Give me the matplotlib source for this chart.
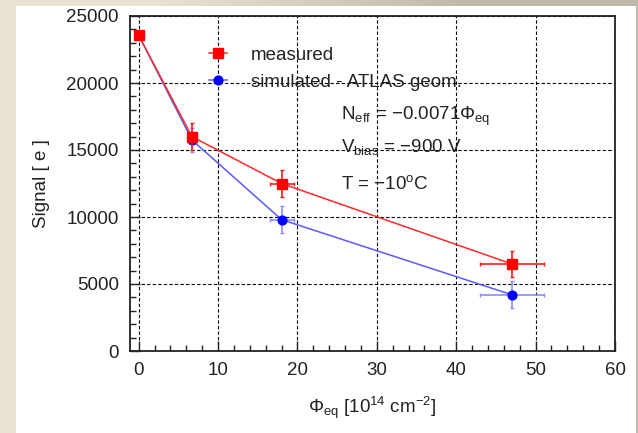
import numpy as np
import matplotlib
matplotlib.use("Agg")
import matplotlib.pyplot as plt
from matplotlib.patches import Rectangle

plt.rcParams['font.family'] = ['Liberation Sans', 'DejaVu Sans']
plt.rcParams['mathtext.fontset'] = 'custom'
plt.rcParams['mathtext.rm'] = 'Liberation Sans'
plt.rcParams['mathtext.it'] = 'Liberation Sans:italic'
plt.rcParams['mathtext.bf'] = 'Liberation Sans:bold'

# ---- data ----
meas_x = [0, 6.7, 18, 47]
meas_y = [23550, 16000, 12500, 6500]
meas_xerr = [0, 0.5, 1.5, 4]
meas_yerr = [0, 1000, 1000, 1000]

sim_x = [0, 6.7, 18, 47]
sim_y = [23550, 15750, 9800, 4200]
sim_xerr = [0, 0.5, 1.5, 4]
sim_yerr = [0, 900, 1000, 1000]

x_ticks = [0, 10, 20, 30, 40, 50, 60]
y_ticks = [0, 5000, 10000, 15000, 20000, 25000]

W, H = 638, 433
fig = plt.figure(figsize=(W / 100, H / 100), dpi=100)

# background: beige gradient frame + white slide area
bg = fig.add_axes([0, 0, 1, 1], zorder=-10)
bg.set_axis_off()
grad = np.array([[[0.91, 0.89, 0.82], [0.74, 0.72, 0.66]]])
bg.imshow(grad, extent=[0, 1, 0, 1], aspect='auto', interpolation='bilinear')
bg.add_patch(Rectangle((16 / W, 0), (636 - 16) / W, (H - 6) / H,
                       facecolor='white', edgecolor='none'))
bg.set_xlim(0, 1)
bg.set_ylim(0, 1)

ax = fig.add_axes([130 / W, 1 - 351 / H, (615 - 130) / W, (351 - 16) / H])
ax.set_facecolor('none')

ax.set_xlim(-1.1, 60)
ax.set_ylim(0, 25000)
ax.set_xticks(x_ticks)
ax.set_yticks(y_ticks)
ax.set_xticks(np.arange(0, 60.1, 2), minor=True)
ax.set_yticks(np.arange(0, 25001, 1000), minor=True)

ax.grid(True, which='major', color='black', linestyle=(0, (3, 2)), linewidth=0.8)
ax.set_axisbelow(True)

for side in ['top', 'right', 'left', 'bottom']:
    ax.spines[side].set_linewidth(1.3)
    ax.spines[side].set_color('#222222')

ax.tick_params(which='both', direction='in', top=False, right=False,
               colors='#222222', labelcolor='#222222', labelsize=13.5, pad=8)
ax.tick_params(which='major', length=7, width=1.0)
ax.tick_params(which='minor', length=4.5, width=1.0)

sim = ax.errorbar(sim_x, sim_y, xerr=sim_xerr, yerr=sim_yerr, fmt='o-',
                  color='#5a5aff', ecolor='#8c8cff', mfc='#0000ff', mec='#0000ff',
                  ms=6.3, lw=1.1, elinewidth=1.2, capsize=1.5, zorder=3,
                  label='simulated - ATLAS geom.')
meas = ax.errorbar(meas_x, meas_y, xerr=meas_xerr, yerr=meas_yerr, fmt='s-',
                   color='#ff2a2a', ecolor='#ff1a1a', mfc='#ff0000', mec='#ff0000',
                   ms=7, lw=1.1, elinewidth=1.2, capsize=1.5, zorder=4,
                   label='measured')

leg = ax.legend([meas.lines[0], sim.lines[0]], ['measured', 'simulated - ATLAS geom.'],
                loc='center left', bbox_to_anchor=(0.162, 0.842), frameon=False,
                fontsize=13.5, handlelength=1.0, handletextpad=1.25,
                labelspacing=0.52, borderpad=0, borderaxespad=0, numpoints=1)
for t in leg.get_texts():
    t.set_color('#222222')

txt_kw = dict(fontsize=13.5, color='#222222', va='baseline', ha='left', zorder=5)
ax.text(25.5, 17240, r'N$_{\rm eff}$ = $-$0.0071Φ$_{\rm eq}$', **txt_kw)
ax.text(25.5, 14850, r'V$_{\rm bias}$ = $-$900 V', **txt_kw)
ax.text(25.5, 12090, r'T = $-$10$^{\rm o}$C', **txt_kw)

ax.set_xlabel(r'Φ$_{\rm eq}$ [10$^{14}$ cm$^{-2}$]', fontsize=13.5, color='#222222', va='center')
ax.set_ylabel('Signal [ e ]', fontsize=13.5, color='#222222', va='center')
ax.xaxis.set_label_coords(0.5, -0.17)
ax.yaxis.set_label_coords(-0.1835, 0.5)

fig.savefig('out.png', dpi=100)
